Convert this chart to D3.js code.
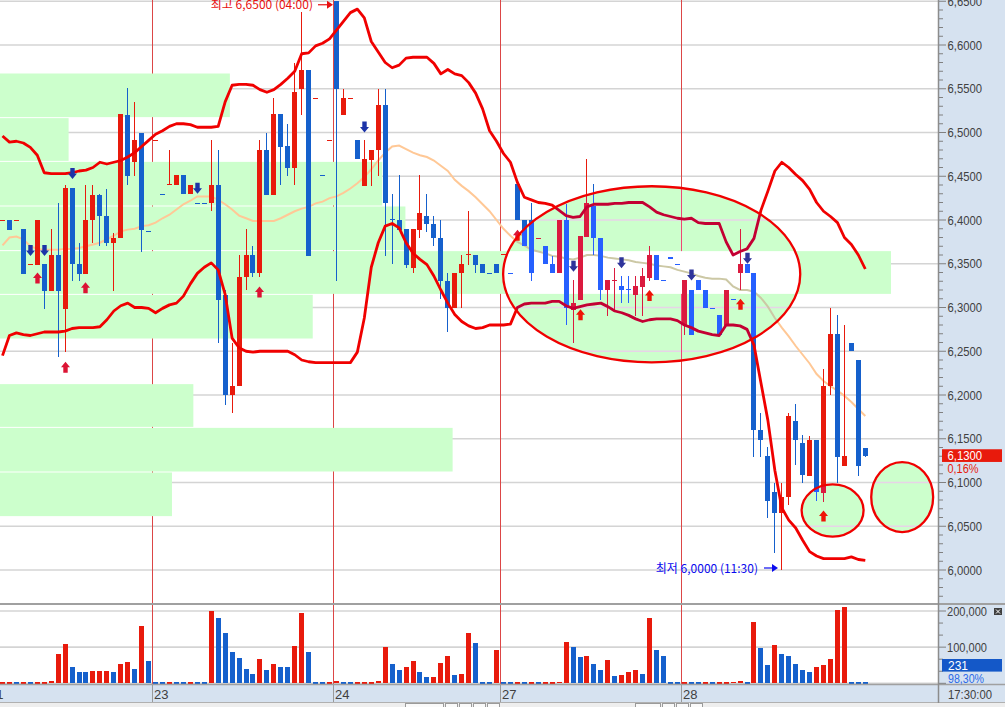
<!DOCTYPE html>
<html><head><meta charset="utf-8">
<script src="https://cdn.jsdelivr.net/npm/d3@7/dist/d3.min.js"></script>
<style>html,body{margin:0;padding:0;background:#fff;overflow:hidden}svg{display:block}</style>
</head><body>
<svg id="c" width="1005" height="707"></svg>
<script>
// ---------------- DATA ----------------
const open=[6.400,6.400,6.400,6.390,6.350,6.349,6.350,6.319,6.360,6.298,
6.437,6.350,6.338,6.400,6.429,6.405,6.374,6.379,6.520,6.466,
6.500,6.388,6.491,6.430,6.440,6.440,6.451,6.430,6.420,6.420,
6.420,6.440,6.314,6.200,6.210,6.335,6.360,6.340,6.480,6.429,
6.521,6.485,6.459,6.550,6.571,6.540,6.451,6.491,6.650,6.520,
6.540,6.491,6.439,6.469,6.480,6.531,6.401,6.400,6.390,6.345,
6.389,6.405,6.396,6.380,6.330,6.300,6.340,6.360,6.360,6.350,
6.340,6.350,6.361,6.340,6.441,6.400,6.400,6.380,6.370,6.350,
6.339,6.400,6.297,6.309,6.381,6.416,6.380,6.320,6.330,6.325,
6.321,6.314,6.324,6.334,6.360,6.331,6.358,6.350,6.280,6.320,
6.331,6.320,6.299,6.291,6.279,6.310,6.339,6.350,6.339,6.160,
6.130,6.089,6.065,6.084,6.170,6.145,6.108,6.149,6.088,6.210,
6.270,6.119,6.260,6.240,6.139];
const high=[6.400,6.400,6.400,6.390,6.350,6.400,6.350,6.390,6.420,6.440,
6.437,6.374,6.440,6.440,6.430,6.436,6.385,6.521,6.551,6.535,
6.500,6.388,6.491,6.430,6.480,6.451,6.451,6.440,6.420,6.420,
6.491,6.480,6.320,6.260,6.360,6.390,6.370,6.491,6.500,6.540,
6.521,6.510,6.580,6.638,6.571,6.540,6.451,6.491,6.650,6.550,
6.540,6.491,6.491,6.480,6.550,6.550,6.430,6.451,6.390,6.390,
6.451,6.430,6.405,6.400,6.340,6.340,6.360,6.410,6.360,6.350,
6.340,6.350,6.361,6.340,6.441,6.400,6.420,6.380,6.370,6.359,
6.400,6.418,6.331,6.382,6.470,6.441,6.380,6.331,6.345,6.336,
6.336,6.336,6.345,6.370,6.360,6.331,6.358,6.350,6.331,6.320,
6.331,6.320,6.299,6.291,6.320,6.310,6.390,6.350,6.339,6.179,
6.141,6.100,6.100,6.179,6.190,6.154,6.153,6.149,6.230,6.299,
6.291,6.280,6.260,6.240,6.139];
const low=[6.400,6.389,6.400,6.338,6.350,6.349,6.298,6.319,6.243,6.249,
6.330,6.330,6.338,6.374,6.370,6.370,6.319,6.379,6.440,6.450,
6.364,6.388,6.491,6.430,6.440,6.440,6.430,6.430,6.420,6.420,
6.410,6.260,6.189,6.180,6.210,6.320,6.335,6.335,6.429,6.429,
6.440,6.450,6.440,6.520,6.359,6.540,6.451,6.491,6.330,6.520,
6.540,6.470,6.439,6.439,6.450,6.359,6.350,6.389,6.345,6.340,
6.380,6.386,6.370,6.310,6.272,6.300,6.300,6.349,6.340,6.340,
6.340,6.340,6.361,6.340,6.400,6.370,6.330,6.380,6.350,6.339,
6.339,6.280,6.259,6.309,6.381,6.360,6.309,6.290,6.297,6.305,
6.305,6.290,6.290,6.330,6.331,6.331,6.356,6.350,6.269,6.269,
6.320,6.299,6.299,6.269,6.279,6.310,6.320,6.339,6.129,6.129,
6.059,6.019,6.000,6.074,6.120,6.099,6.108,6.079,6.078,6.200,
6.099,6.119,6.250,6.108,6.129];
const close=[6.400,6.389,6.400,6.338,6.350,6.400,6.319,6.360,6.319,6.437,
6.350,6.338,6.400,6.429,6.405,6.374,6.380,6.521,6.450,6.491,
6.389,6.388,6.491,6.430,6.441,6.451,6.430,6.440,6.420,6.420,
6.440,6.309,6.200,6.210,6.335,6.360,6.340,6.480,6.429,6.521,
6.484,6.459,6.546,6.571,6.359,6.540,6.451,6.491,6.550,6.540,
6.540,6.470,6.470,6.480,6.531,6.420,6.400,6.389,6.349,6.390,
6.408,6.396,6.379,6.330,6.300,6.340,6.350,6.361,6.349,6.340,
6.340,6.340,6.361,6.340,6.400,6.370,6.339,6.380,6.350,6.339,
6.400,6.299,6.305,6.382,6.420,6.380,6.320,6.331,6.331,6.320,
6.320,6.325,6.336,6.360,6.331,6.331,6.356,6.350,6.331,6.269,
6.320,6.299,6.299,6.269,6.320,6.310,6.350,6.339,6.160,6.149,
6.079,6.065,6.084,6.176,6.149,6.109,6.149,6.089,6.210,6.270,
6.129,6.130,6.250,6.119,6.130];
const volume=[600,800,500,900,400,1200,1500,6500,81000,109000,
45000,31000,30500,34000,34000,34000,31000,54000,59000,40000,
159000,62000,700,500,900,800,600,700,400,300,
201000,181000,140000,87000,71000,40000,26000,68000,37000,54000,
45000,44000,104000,195000,87000,500,400,600,5000,900,
700,1200,1500,1800,6500,100000,54000,37000,45000,62000,
31000,18000,18000,56000,76000,23000,26000,140000,112000,800,
500,93000,400,300,1500,1200,1600,500,900,1100,
4000,115000,101000,73000,76000,54000,37000,65000,20000,23000,
31000,37000,26000,181000,93000,76000,900,600,1500,1300,
900,1100,600,1200,1400,4000,6500,1200,170000,98000,
51000,106000,81000,76000,54000,37000,31000,45000,51000,68000,
204000,212000,800,600,231];
const upperBand=[6.496,6.489,6.490,6.488,6.483,6.474,6.454,6.453,6.453,6.453,
6.454,6.456,6.457,6.460,6.466,6.464,6.466,6.468,6.472,6.477,
6.484,6.491,6.498,6.502,6.507,6.510,6.510,6.509,6.506,6.506,
6.506,6.507,6.535,6.554,6.555,6.555,6.554,6.549,6.546,6.549,
6.555,6.562,6.570,6.590,6.591,6.599,6.602,6.607,6.617,6.627,
6.637,6.641,6.631,6.604,6.592,6.580,6.574,6.577,6.585,6.586,
6.586,6.586,6.579,6.567,6.572,6.567,6.565,6.557,6.545,6.527,
6.502,6.490,6.476,6.466,6.443,6.426,6.423,6.420,6.419,6.417,
6.411,6.405,6.403,6.404,6.415,6.418,6.418,6.418,6.419,6.419,
6.420,6.420,6.420,6.415,6.409,6.406,6.404,6.402,6.401,6.402,
6.397,6.396,6.396,6.396,6.375,6.360,6.364,6.367,6.379,6.411,
6.433,6.456,6.466,6.460,6.452,6.445,6.435,6.420,6.410,6.404,
6.397,6.380,6.372,6.360,6.344];
const lowerBand=[6.245,6.268,6.271,6.269,6.268,6.270,6.272,6.272,6.272,6.273,
6.276,6.277,6.277,6.277,6.278,6.286,6.296,6.302,6.305,6.300,
6.300,6.299,6.294,6.299,6.303,6.305,6.313,6.327,6.339,6.346,
6.351,6.343,6.315,6.265,6.254,6.250,6.249,6.250,6.250,6.250,
6.250,6.250,6.246,6.240,6.238,6.237,6.237,6.237,6.237,6.237,
6.237,6.249,6.288,6.346,6.374,6.393,6.396,6.391,6.374,6.362,
6.355,6.349,6.336,6.320,6.305,6.292,6.284,6.279,6.276,6.277,
6.280,6.280,6.280,6.281,6.300,6.304,6.305,6.305,6.305,6.307,
6.307,6.302,6.299,6.301,6.303,6.304,6.305,6.301,6.296,6.294,
6.291,6.287,6.284,6.286,6.287,6.287,6.287,6.285,6.280,6.277,
6.273,6.271,6.269,6.268,6.280,6.280,6.279,6.275,6.257,6.214,
6.171,6.114,6.071,6.057,6.048,6.034,6.021,6.016,6.013,6.013,
6.013,6.013,6.015,6.012,6.011];
const middleBand=[6.371,6.380,6.381,6.378,6.370,6.367,6.366,6.366,6.366,6.367,
6.367,6.368,6.370,6.372,6.374,6.378,6.382,6.387,6.389,6.390,
6.393,6.394,6.397,6.402,6.406,6.412,6.418,6.422,6.427,6.427,
6.427,6.423,6.418,6.412,6.405,6.402,6.399,6.399,6.399,6.399,
6.402,6.406,6.410,6.413,6.415,6.419,6.421,6.425,6.427,6.431,
6.436,6.442,6.449,6.458,6.468,6.477,6.484,6.485,6.481,6.477,
6.474,6.472,6.468,6.462,6.456,6.446,6.439,6.433,6.426,6.418,
6.410,6.400,6.390,6.382,6.375,6.371,6.366,6.364,6.362,6.359,
6.358,6.356,6.355,6.357,6.360,6.360,6.359,6.357,6.356,6.355,
6.354,6.352,6.351,6.350,6.348,6.347,6.346,6.343,6.341,6.339,
6.336,6.334,6.333,6.333,6.332,6.324,6.320,6.320,6.318,6.311,
6.301,6.288,6.277,6.267,6.256,6.246,6.236,6.224,6.216,6.210,
6.205,6.199,6.192,6.184,6.176];
// volume-at-price profile (price bins, relative volume)
const profileHigh=[6.568,6.517,6.467,6.416,6.365,6.315,6.264,6.213,6.163,6.112];
const profileLow =[6.517,6.467,6.416,6.365,6.315,6.264,6.213,6.163,6.112,6.061];
const profileVol =[258,77,429,455,1000,351,0,217,508,193];
// signals
const buyIdx=[5,9,12,37,74,83,93,106,118];
const buyPrice=[6.340,6.238,6.329,6.324,6.389,6.298,6.320,6.310,6.068];
const sellIdx=[4,6,10,28,52,82,89,99,107];
const sellPrice=[6.359,6.359,6.447,6.430,6.500,6.341,6.345,6.331,6.350];
// days
const dayStartIdx=[22,48,72,98];
const dayLabels=["23","24","27","28"];
const firstDayLabel="21";
// axes
const priceTicks=[6.00,6.05,6.10,6.15,6.20,6.25,6.30,6.35,6.40,6.45,6.50,6.55,6.60,6.65];
const priceTickLabels=["6,0000","6,0500","6,1000","6,1500","6,2000","6,2500","6,3000","6,3500","6,4000","6,4500","6,5000","6,5500","6,6000","6,6500"];
const volTicks=[100000,200000];
const volTickLabels=["100,000","200,000"];
const lastPriceLabel="6,1300", lastPriceChg="0,16%";
const lastVolLabel="231", lastVolPct="98,30%";
const timeLabel="17:30:00";
const highNote="최고 6,6500 (04:00)", lowNote="최저 6,0000 (11:30)";
const highNoteIdx=48, highNotePrice=6.65, lowNoteIdx=112, lowNotePrice=6.0;

// ---------------- SCALES ----------------
const N=open.length;
const svg=d3.select('#c');
const xS=d3.scaleLinear().domain([0,124]).range([2.5,865.3]);
const yS=d3.scaleLinear().domain([6.0,6.65]).range([570,1.25]);
const vS=d3.scaleLinear().domain([0,200000]).range([683.3,611]);
const pS=d3.scaleLinear().domain([0,1000]).range([0,891]);
const cx=i=>Math.floor(xS(i));

const COL={bg:'#ffffff',box:'#ccffcc',grid:'#d4d4d4',sep:'#dc4646',up:'#e81a0c',dn:'#1560cc',
  band:'#f00000',ma:'#ffc896',upA:'#dc1434',dnA:'#1c34a8'};
const xorHex=c=>{const k=d3.rgb(c);return d3.rgb(k.r^51,k.g,k.b^51).formatHex();};

const cCol=[];let prev='up';
for(let i=0;i<N;i++){let c;
  if(close[i]>open[i])c='up';else if(close[i]<open[i])c='dn';
  else if(i>0&&close[i]>close[i-1])c='up';else if(i>0&&close[i]<close[i-1])c='dn';else c=prev;
  cCol.push(c);prev=c;}

const defs=svg.append('defs');

function drawMain(g,C){
  g.append('rect').attr('x',0).attr('y',0).attr('width',938).attr('height',603).attr('fill',C('bg'));
  g.selectAll(null).data(priceTicks).enter().append('line')
    .attr('x1',0).attr('x2',938).attr('y1',d=>yS(d)).attr('y2',d=>yS(d))
    .attr('stroke',C('grid')).attr('stroke-width',1.6);
  g.selectAll(null).data(dayStartIdx).enter().append('line')
    .attr('x1',d=>cx(d)-2.5).attr('x2',d=>cx(d)-2.5).attr('y1',0).attr('y2',603)
    .attr('stroke',C('sep')).attr('stroke-width',1);
  g.selectAll(null).data(profileVol.map((v,i)=>i)).enter().append('rect')
    .attr('x',0).attr('y',i=>yS(profileHigh[i])+0.5).attr('width',i=>pS(profileVol[i]))
    .attr('height',i=>yS(profileLow[i])-yS(profileHigh[i])-1).attr('fill',C('box'));
  const ln=d3.line().x((d,i)=>xS(i)).y(d=>yS(d));
  g.append('path').attr('d',ln(middleBand)).attr('fill','none').attr('stroke',C('ma')).attr('stroke-width',2);
  const cg=g.append('g').attr('shape-rendering','crispEdges');
  const idx=d3.range(N);
  cg.selectAll(null).data(idx.filter(i=>high[i]>low[i])).enter().append('line')
    .attr('x1',i=>cx(i)+0.5).attr('x2',i=>cx(i)+0.5).attr('y1',i=>yS(high[i])).attr('y2',i=>yS(low[i]))
    .attr('stroke',i=>C(cCol[i])).attr('stroke-width',1);
  cg.selectAll(null).data(idx).enter().append('rect')
    .attr('x',i=>cx(i)-2).attr('width',5)
    .attr('y',i=>Math.round(yS(Math.max(open[i],close[i]))))
    .attr('height',i=>Math.max(1,Math.round(yS(Math.min(open[i],close[i])))-Math.round(yS(Math.max(open[i],close[i])))))
    .attr('fill',i=>C(cCol[i]));
  g.append('path').attr('d',ln(upperBand)).attr('fill','none').attr('stroke',C('band')).attr('stroke-width',2.8).attr('stroke-linejoin','round');
  g.append('path').attr('d',ln(lowerBand)).attr('fill','none').attr('stroke',C('band')).attr('stroke-width',2.8).attr('stroke-linejoin','round');
  g.selectAll(null).data(buyIdx.map((d,k)=>k)).enter().append('path')
    .attr('d',k=>{const x=cx(buyIdx[k])+0.5,y=yS(buyPrice[k]);return `M${x},${y} l4.5,5.5 h-2.3 v5.5 h-4.4 v-5.5 h-2.3 z`;})
    .attr('fill',C('upA'));
  g.selectAll(null).data(sellIdx.map((d,k)=>k)).enter().append('path')
    .attr('d',k=>{const x=cx(sellIdx[k])+0.5,y=yS(sellPrice[k]);return `M${x},${y} l4.5,-5.5 h-2.3 v-5.5 h-4.4 v5.5 h-2.3 z`;})
    .attr('fill',C('dnA'));
}

// ---- price panel
drawMain(svg.append('g'),k=>COL[k]);

// annotation ellipses (XOR-style fill)
const ells=[
  {i:93.3,p:6.338,rxi:21.35,rp:0.1006},
  {i:119.3,p:6.068,rxi:4.45,rp:0.0298},
  {i:129.3,p:6.0834,rxi:4.45,rp:0.040}
];
ells.forEach((e,k)=>{
  const ex=xS(e.i),ey=yS(e.p),rx=xS(e.i+e.rxi)-ex,ry=yS(e.p-e.rp)-ey;
  defs.append('clipPath').attr('id','el'+k).append('ellipse').attr('cx',ex).attr('cy',ey).attr('rx',rx).attr('ry',ry);
  const g=svg.append('g').attr('clip-path',`url(#el${k})`);
  drawMain(g,c=>xorHex(COL[c]));
  e.px=[ex,ey,rx,ry];
});
ells.forEach(e=>{
  svg.append('ellipse').attr('cx',e.px[0]).attr('cy',e.px[1]).attr('rx',e.px[2]).attr('ry',e.px[3])
    .attr('fill','none').attr('stroke','#f00000').attr('stroke-width',2.3);
});

// high / low notes
{
  const hx=cx(highNoteIdx)-3,hy=yS(highNotePrice)+3.5;
  svg.append('text').attr('x',hx-20).attr('y',8.5).attr('text-anchor','end')
    .attr('font-family','"Noto Sans CJK KR","Noto Sans",sans-serif').attr('font-size',12).attr('fill','#e81010').text(highNote);
  svg.append('line').attr('x1',hx-15).attr('x2',hx-4).attr('y1',hy).attr('y2',hy).attr('stroke','#e81010').attr('stroke-width',1.2);
  svg.append('path').attr('d',`M${hx},${hy} l-6,-4 v8 z`).attr('fill','#e81010');
  const lx=cx(lowNoteIdx)-3,ly=yS(lowNotePrice)-2;
  svg.append('text').attr('x',lx-20).attr('y',ly+4.5).attr('text-anchor','end')
    .attr('font-family','"Noto Sans CJK KR","Noto Sans",sans-serif').attr('font-size',12).attr('fill','#0a0aee').text(lowNote);
  svg.append('line').attr('x1',lx-14).attr('x2',lx-4).attr('y1',ly).attr('y2',ly).attr('stroke','#0a0aee').attr('stroke-width',1.2);
  svg.append('path').attr('d',`M${lx},${ly} l-6,-4 v8 z`).attr('fill','#0a0aee');
}

// ---- volume panel
const vg=svg.append('g');
vg.append('rect').attr('x',0).attr('y',605).attr('width',938).attr('height',79).attr('fill','#fff');
vg.selectAll(null).data([0].concat(volTicks)).enter().append('line')
  .attr('x1',0).attr('x2',938).attr('y1',d=>vS(d)).attr('y2',d=>vS(d)).attr('stroke','#d4d4d4').attr('stroke-width',1.6);
vg.selectAll(null).data(dayStartIdx).enter().append('line')
  .attr('x1',d=>cx(d)-2.5).attr('x2',d=>cx(d)-2.5).attr('y1',605).attr('y2',684)
  .attr('stroke',COL.sep).attr('stroke-width',1);
vg.append('g').attr('shape-rendering','crispEdges').selectAll(null).data(d3.range(N)).enter().append('rect')
  .attr('x',i=>cx(i)-2).attr('width',5)
  .attr('y',i=>Math.min(vS(volume[i]),682))
  .attr('height',i=>Math.max(1.5,683.3-vS(volume[i])))
  .attr('fill',i=>(i===0||volume[i]>=volume[i-1])?COL.up:COL.dn);

// ---- frames / axis panel
const AX='#d6e2f0';
svg.append('rect').attr('x',938.5).attr('y',0).attr('width',67).attr('height',703).attr('fill',AX);
svg.append('rect').attr('x',0).attr('y',685).attr('width',1005).attr('height',18).attr('fill',AX);
svg.append('rect').attr('x',0).attr('y',703).attr('width',1005).attr('height',4).attr('fill','#eeeeee');
[[405,38],[445,12],[459,12],[473,12],[487,12],[635,25],[662,12],[676,12],[690,12]].forEach(b=>{
  svg.append('rect').attr('x',b[0]+0.5).attr('y',703.5).attr('width',b[1]).attr('height',6).attr('fill','#fafafa').attr('stroke','#9a9a9a').attr('stroke-width',1);});
svg.append('line').attr('x1',0).attr('x2',1005).attr('y1',604).attr('y2',604).attr('stroke','#a0a0a0').attr('stroke-width',2);
svg.append('line').attr('x1',0).attr('x2',1005).attr('y1',684.5).attr('y2',684.5).attr('stroke','#a0a0a0').attr('stroke-width',1.5);
svg.append('line').attr('x1',0).attr('x2',1005).attr('y1',702.5).attr('y2',702.5).attr('stroke','#b0b0b0').attr('stroke-width',1);
svg.append('line').attr('x1',938.5).attr('x2',938.5).attr('y1',0).attr('y2',703).attr('stroke','#8c8c8c').attr('stroke-width',1.5);
// day separators in time strip
svg.selectAll(null).data(dayStartIdx).enter().append('line')
  .attr('x1',d=>cx(d)-2.5).attr('x2',d=>cx(d)-2.5).attr('y1',685).attr('y2',702)
  .attr('stroke','#9a9a9a').attr('stroke-width',1);
const NUMF='"Liberation Sans",Arial,sans-serif';
svg.selectAll(null).data(dayStartIdx).enter().append('text')
  .attr('x',d=>cx(d)-1).attr('y',699).attr('font-family',NUMF).attr('font-size',13).attr('fill','#404040')
  .text((d,k)=>dayLabels[k]);
svg.append('text').attr('x',3.5).attr('y',699).attr('text-anchor','end').attr('font-family',NUMF).attr('font-size',13).attr('fill','#404040').text(firstDayLabel);
svg.append('text').attr('x',948).attr('y',699).attr('font-family',NUMF).attr('font-size',13).attr('fill','#404040')
  .attr('textLength',44).attr('lengthAdjust','spacingAndGlyphs').text(timeLabel);

// price axis ticks
const minor=d3.range(597,666).map(v=>v/100);
svg.selectAll(null).data(minor).enter().append('line')
  .attr('x1',939).attr('x2',d=>Math.abs(d*20-Math.round(d*20))<1e-6?946:943)
  .attr('y1',d=>yS(d)).attr('y2',d=>yS(d)).attr('stroke','#808080').attr('stroke-width',1);
svg.selectAll(null).data(priceTicks).enter().append('text')
  .attr('x',947.5).attr('y',d=>yS(d)+4.6).attr('font-family',NUMF).attr('font-size',13).attr('fill','#404040')
  .attr('textLength',34.5).attr('lengthAdjust','spacingAndGlyphs').text((d,k)=>priceTickLabels[k]);
// volume axis ticks
const vminor=d3.range(0,8).map(k=>k*100000/3);
svg.selectAll(null).data(vminor).enter().append('line')
  .attr('x1',939).attr('x2',(d,k)=>k%3===0?946:943)
  .attr('y1',d=>vS(d)).attr('y2',d=>vS(d)).attr('stroke','#808080').attr('stroke-width',1)
  .style('display',d=>vS(d)<606?'none':null);
svg.selectAll(null).data(volTicks).enter().append('text')
  .attr('x',947).attr('y',d=>vS(d)+4.6).attr('font-family',NUMF).attr('font-size',13).attr('fill','#404040')
  .attr('textLength',40).attr('lengthAdjust','spacingAndGlyphs').text((d,k)=>volTickLabels[k]);
// close icon
svg.append('rect').attr('x',994).attr('y',608).attr('width',8).attr('height',7).attr('fill','#404040');
svg.append('path').attr('d','M996,609.5 l4,4 M1000,609.5 l-4,4').attr('stroke','#fff').attr('stroke-width',1);

// last price box
const lp=yS(close[N-1]);
svg.append('rect').attr('x',942).attr('y',lp-7).attr('width',60).attr('height',12.7).attr('fill','#e81a0c');
svg.append('text').attr('x',947.5).attr('y',lp+3.6).attr('font-family',NUMF).attr('font-size',12).attr('fill','#fff')
  .attr('textLength',34.5).attr('lengthAdjust','spacingAndGlyphs').text(lastPriceLabel);
svg.append('text').attr('x',947.5).attr('y',lp+16.5).attr('font-family',NUMF).attr('font-size',12).attr('fill','#e81a0c')
  .attr('textLength',31).attr('lengthAdjust','spacingAndGlyphs').text(lastPriceChg);
// last volume box
svg.append('rect').attr('x',942).attr('y',659).attr('width',60).attr('height',12.6).attr('fill','#1458c8');
svg.append('text').attr('x',948).attr('y',669.5).attr('font-family',NUMF).attr('font-size',12).attr('fill','#fff')
  .attr('textLength',20).attr('lengthAdjust','spacingAndGlyphs').text(lastVolLabel);
svg.append('text').attr('x',948).attr('y',682.8).attr('font-family',NUMF).attr('font-size',12).attr('fill','#2a6ae8')
  .attr('textLength',36).attr('lengthAdjust','spacingAndGlyphs').text(lastVolPct);
</script>
</body></html>
